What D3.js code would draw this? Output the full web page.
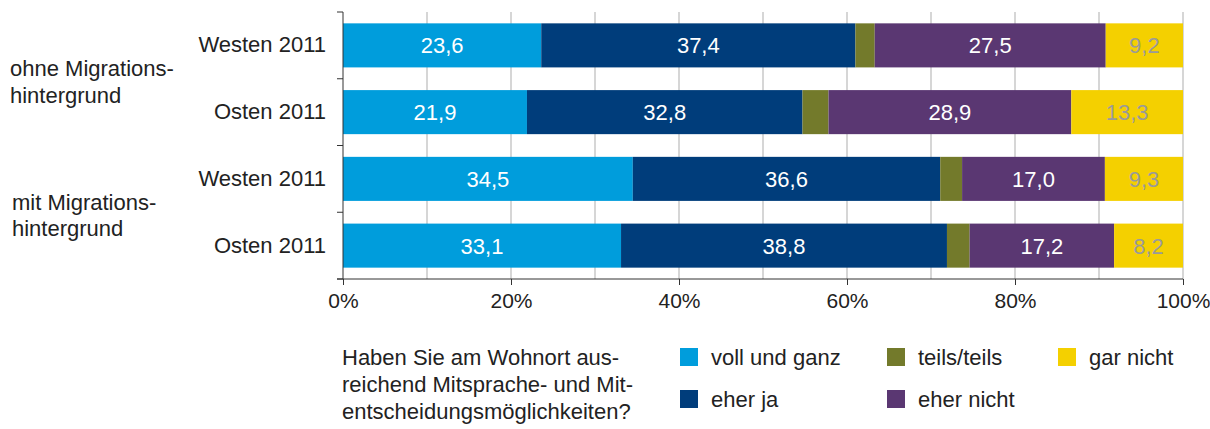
<!DOCTYPE html>
<html><head><meta charset="utf-8">
<script src="https://cdn.jsdelivr.net/npm/d3@7"></script>
<style>
body{margin:0;background:#fff;}
svg{display:block;font-family:"Liberation Sans",Arial,sans-serif;}
</style></head>
<body><svg id="c" width="1210" height="429"></svg>
<script>
const rows = ["r1","r2","r3","r4"];
const rowLabels = ["Westen 2011","Osten 2011","Westen 2011","Osten 2011"];
const seriesNames = ["voll und ganz","eher ja","teils/teils","eher nicht","gar nicht"];
const vollUndGanz = [23.6, 21.9, 34.5, 33.1];
const eherJa      = [37.4, 32.8, 36.6, 38.8];
const teilsTeils  = [2.3, 3.1, 2.6, 2.7];
const eherNicht   = [27.5, 28.9, 17.0, 17.2];
const garNicht    = [9.2, 13.3, 9.3, 8.2];
const colors = ["#009ddc","#003d7b","#737a2b","#5a3772","#f4d000"];
const labelColors = ["#fff","#fff",null,"#fff","#9a9a9a"];
const xTicks = [0,20,40,60,80,100];
const groupLabels = [["ohne Migrations-","hintergrund"],["mit Migrations-","hintergrund"]];
const legendTitle = ["Haben Sie am Wohnort aus-","reichend Mitsprache- und Mit-","entscheidungsmöglichkeiten?"];

const svg = d3.select("#c");
const x = d3.scaleLinear().domain([0,100]).range([343,1183]);
const y = d3.scaleBand().domain(rows).range([12,279]).paddingInner(0.34).paddingOuter(0.17);

const seriesVals = [vollUndGanz,eherJa,teilsTeils,eherNicht,garNicht];
const table = rows.map((r,i)=>{const o={row:r}; seriesNames.forEach((s,k)=>o[s]=seriesVals[k][i]); return o;});
const stack = d3.stack().keys(seriesNames)(table);

// gridlines every 10%
svg.append("g").selectAll("line").data(d3.range(10,101,10)).join("line")
  .attr("x1",d=>x(d)).attr("x2",d=>x(d)).attr("y1",12).attr("y2",279)
  .attr("stroke","#c8c8c8").attr("stroke-width",1.5);

// bars
const fs = 22;
stack.forEach((layer,k)=>{
  const g = svg.append("g");
  g.selectAll("rect").data(layer).join("rect")
    .attr("x",d=>x(d[0])).attr("width",d=>x(d[1])-x(d[0]))
    .attr("y",d=>y(d.data.row)).attr("height",y.bandwidth())
    .attr("fill",colors[k]);
  if(labelColors[k]){
    g.selectAll("text").data(layer).join("text")
      .attr("x",d=>(x(d[0])+x(d[1]))/2).attr("y",d=>y(d.data.row)+y.bandwidth()/2)
      .attr("dy","0.36em").attr("text-anchor","middle")
      .attr("font-size",fs).attr("fill",labelColors[k])
      .text(d=>d3.format(".1f")(d[1]-d[0]).replace(".",","));
  }
});

// bottom axis
const xa = svg.append("g").attr("transform","translate(0,279)")
  .call(d3.axisBottom(x).tickValues(xTicks).tickSize(6).tickPadding(8).tickFormat(d=>d+"%"));
xa.select(".domain").remove();
xa.selectAll(".tick line").attr("stroke","#333");
xa.selectAll("text").attr("font-size",21).attr("fill","#222").attr("font-family","inherit");
svg.append("line").attr("x1",337).attr("x2",x(100)).attr("y1",279).attr("y2",279).attr("stroke","#333");

// left axis
svg.append("line").attr("x1",343).attr("x2",343).attr("y1",12).attr("y2",279).attr("stroke","#333");
const bounds = rows.map(r=>y(r)-y.step()*y.paddingInner()/2).concat([279]);
bounds[0]=12;
svg.append("g").selectAll("line").data(bounds).join("line")
  .attr("x1",337).attr("x2",343).attr("y1",d=>d).attr("y2",d=>d).attr("stroke","#333");
const ya = svg.append("g").attr("transform","translate(343,0)")
  .call(d3.axisLeft(y).tickSize(0).tickPadding(17).tickFormat((d,i)=>rowLabels[i]));
ya.select(".domain").remove();
ya.selectAll("text").attr("font-size",fs).attr("fill","#222").attr("font-family","inherit");

// group labels
const gl = svg.append("g").attr("font-size",fs).attr("fill","#222");
groupLabels.forEach((lines,gi)=>{
  const cy = (y(rows[gi*2])+y(rows[gi*2+1])+y.bandwidth())/2;
  lines.forEach((t,li)=>{
    gl.append("text").attr("x",gi===0?10:12).attr("y",cy-10.5+li*26.5).attr("dy","0.36em").text(t);
  });
});

// legend title
const lt = svg.append("g").attr("font-size",fs).attr("fill","#222");
legendTitle.forEach((t,i)=>lt.append("text").attr("x",342).attr("y",357+i*27).attr("dy","0.36em").text(t));

// legend
const legPos = [[680,357],[680,399],[887,357],[887,399],[1058,357]];
const lg = svg.append("g");
seriesNames.forEach((s,k)=>{
  const [lx,ly]=legPos[k];
  lg.append("rect").attr("x",lx).attr("y",ly-9).attr("width",18).attr("height",18).attr("fill",colors[k]);
  lg.append("text").attr("x",lx+31).attr("y",ly).attr("dy","0.36em").attr("font-size",fs).attr("fill","#222").text(s);
});
</script></body></html>
